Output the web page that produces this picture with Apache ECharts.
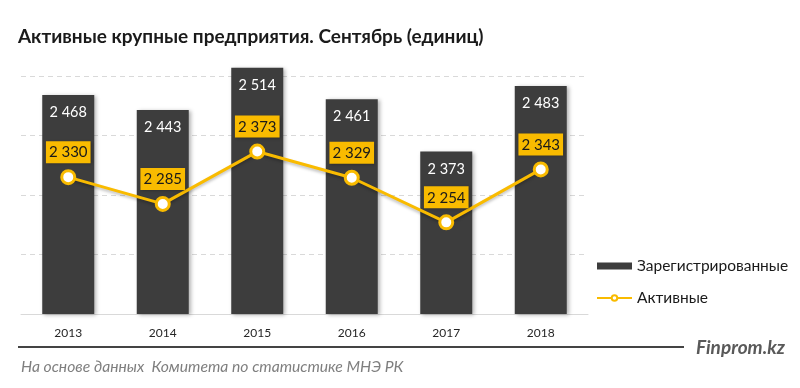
<!DOCTYPE html>
<html><head><meta charset="utf-8">
<script src="https://cdn.jsdelivr.net/npm/echarts@6/dist/echarts.min.js"></script>
<style>html,body{margin:0;padding:0;background:#fff}#c{width:800px;height:388px}</style>
</head><body><div id="c"></div>
<script>
const categories = ['2013','2014','2015','2016','2017','2018'];
const registered = [2468, 2443, 2514, 2461, 2373, 2483];
const active = [2330, 2285, 2373, 2329, 2254, 2343];
const seriesNames = ['Зарегистрированные', 'Активные'];
const titleText = 'Активные крупные предприятия. Сентябрь (единиц)';
const sourceText = 'На основе данных  Комитета по статистике МНЭ РК';
const brandText = 'Finprom.kz';

const FONT = 'Lato, "Open Sans", sans-serif';
const YEL = '#f9bb00';
const fmt = v => String(v).replace(/\B(?=(\d{3})+(?!\d))/g, ' ');

const chart = echarts.init(document.getElementById('c'));
chart.setOption({
  animation: false,
  textStyle: { fontFamily: FONT },
  title: [
    { text: titleText, left: 13, top: 22, textStyle: { fontFamily: FONT, fontSize: 19, fontWeight: 'bold', color: '#1a1a1a' } },
    { text: sourceText, left: 16, top: 354, textStyle: { fontFamily: FONT, fontSize: 15.7, fontStyle: 'italic', fontWeight: 'normal', color: '#7f7f7f' } },
    { text: brandText, left: 691, top: 333, textStyle: { fontFamily: FONT, fontSize: 19, fontStyle: 'italic', fontWeight: 'bold', color: '#595959' } }
  ],
  graphic: [
    { type: 'line', shape: { x1: 18, y1: 347, x2: 684, y2: 347 }, style: { stroke: '#444', lineWidth: 2 } }
  ],
  legend: {
    orient: 'vertical', left: 596, top: 258, itemGap: 16, padding: 0,
    itemWidth: 35, itemHeight: 7,
    textStyle: { fontFamily: FONT, fontSize: 15.5, color: '#1a1a1a' },
    data: [
      { name: seriesNames[0], icon: 'rect' },
      { name: seriesNames[1] }
    ]
  },
  grid: { left: 21, right: 212, top: 16.5, bottom: 74 },
  xAxis: {
    type: 'category', data: categories,
    axisLine: { lineStyle: { color: '#d9d9d9', width: 1 } },
    axisTick: { show: false },
    axisLabel: { fontFamily: FONT, fontSize: 12, color: '#262626', margin: 13 }
  },
  yAxis: {
    type: 'value', min: 2100, max: 2600, interval: 100,
    axisLabel: { show: false }, axisLine: { show: false }, axisTick: { show: false },
    splitLine: { lineStyle: { type: [5, 4], color: ['#d9d9d9','#d9d9d9','#d9d9d9','#d9d9d9','#d9d9d9','rgba(0,0,0,0)'] } }
  },
  series: [
    {
      name: seriesNames[0], type: 'bar', data: registered, barWidth: 52,
      itemStyle: { color: '#3d3d3d', shadowColor: 'rgba(0,0,0,0.3)', shadowBlur: 4, shadowOffsetX: 2, shadowOffsetY: 1 },
      label: { show: true, position: 'insideTop', distance: 10, formatter: p => fmt(p.value),
        color: '#ffffff', fontFamily: FONT, fontSize: 14.5 }
    },
    {
      name: seriesNames[1], type: 'line', data: active, z: 5,
      symbol: 'circle', symbolSize: 13,
      lineStyle: { color: YEL, width: 3, shadowColor: 'rgba(0,0,0,0.25)', shadowBlur: 3, shadowOffsetY: 2 },
      itemStyle: { color: '#ffffff', borderColor: YEL, borderWidth: 3 },
      label: { show: true, position: 'top', distance: 6, formatter: p => fmt(p.value),
        color: '#1a1a1a', fontFamily: FONT, fontSize: 15, backgroundColor: YEL,
        padding: [4, 3, 3, 3], shadowColor: 'rgba(0,0,0,0.3)', shadowBlur: 3, shadowOffsetX: 1, shadowOffsetY: 1 }
    }
  ]
});
</script></body></html>
